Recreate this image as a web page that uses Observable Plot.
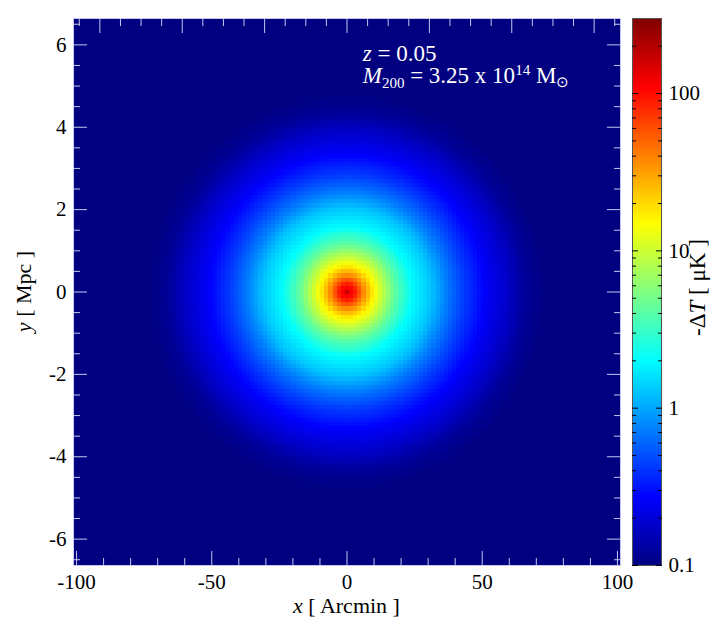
<!DOCTYPE html>
<html><head><meta charset="utf-8">
<script src="https://cdn.jsdelivr.net/npm/d3@7"></script>
<script src="https://cdn.jsdelivr.net/npm/@observablehq/plot@0.6"></script>
<style>
html,body{margin:0;padding:0;background:#fff;}
#chart{position:relative;width:728px;height:629px;font-family:"Liberation Serif","Times New Roman",serif;}
#chart svg{position:absolute;top:0;overflow:visible;}
</style></head><body><div id="chart"></div>
<script>
// Radial profile of the decrement (radius in Mpc, -ΔT in µK)
const profileRadiusMpc = [0, 0.1, 0.17, 0.28, 0.4, 0.53, 0.66, 0.9, 1.14, 1.57, 2.03, 2.4, 2.83, 3.32, 3.9, 4.37, 4.85, 5.5, 9.5];
const profileDeltaT    = [170, 115, 100, 65, 38, 23, 15, 8.2, 4.5, 2.0, 1.3, 0.74, 0.44, 0.27, 0.175, 0.119, 0.1, 0.08, 0.05];
const arcminPerMpc = 15.23;        // angular scale at z = 0.05
const mapHalfWidthMpc = 6.64;      // half side of the map
const pixelMpc = 0.1;              // map pixel size
const cellCount = 133;             // map pixels per side
// Tick values
const xMajorTicks = [-100, -50, 0, 50, 100];
const xMinorTicks = [-90, -80, -70, -60, -40, -30, -20, -10, 10, 20, 30, 40, 60, 70, 80, 90];
const mpcMajorTicks = [-6, -4, -2, 0, 2, 4, 6];
const mpcMinorTicks = [-6.5, -5.5, -5, -4.5, -3.5, -3, -2.5, -1.5, -1, -0.5, 0.5, 1, 1.5, 2.5, 3, 3.5, 4.5, 5, 5.5, 6.5];
const cbarDomain = [0.1, 300];
const cbarMajorTicks = [0.1, 1, 10, 100];
const cbarMinorTicks = [0.2, 0.3, 0.4, 0.5, 0.6, 0.7, 0.8, 0.9, 2, 3, 4, 5, 6, 7, 8, 9, 20, 30, 40, 50, 60, 70, 80, 90, 200];
const cbarTickLabels = ["0.1", "1", "10", "100"];
// Texts
const xTitle = ["x", " [ Arcmin ]"];
const yTitle = ["y", " [ Mpc ]"];
const cTitle = ["-Δ", "T", " [ μK ]"];

function jet(t) {
  const c = v => Math.round(255 * Math.max(0, Math.min(1, v)));
  return `rgb(${c(1.5 - Math.abs(4 * t - 3))},${c(1.5 - Math.abs(4 * t - 2))},${c(1.5 - Math.abs(4 * t - 1))})`;
}
const logProfile = d3.scaleLinear().domain(profileRadiusMpc).range(profileDeltaT.map(Math.log10)).clamp(true);
const deltaTAt = r => 10 ** logProfile(r);

const colorOpts = {type: "log", domain: cbarDomain, interpolate: jet, clamp: true};
const tickColor = "#c6c6ee";
const font = {fontFamily: "Liberation Serif", fontSize: "21px", color: "#000", background: "transparent"};
const xHalf = mapHalfWidthMpc * arcminPerMpc;
const gridHalf = cellCount * pixelMpc / 2;
const hy = d => String(d);

const main = Plot.plot({
  width: 625, height: 629,
  marginLeft: 73, marginRight: 5, marginTop: 18, marginBottom: 64,
  style: font,
  x: {domain: [-xHalf, xHalf]},
  y: {domain: [-mapHalfWidthMpc, mapHalfWidthMpc]},
  color: colorOpts,
  marks: [
    Plot.raster({
      x1: -gridHalf * arcminPerMpc, x2: gridHalf * arcminPerMpc,
      y1: -gridHalf, y2: gridHalf,
      width: cellCount, height: cellCount,
      fill: (x, y) => deltaTAt(Math.hypot(x / arcminPerMpc, y)),
      imageRendering: "pixelated", clip: true
    }),
    Plot.frame({stroke: tickColor}),
    // bottom: arcmin
    Plot.axisX({anchor: "bottom", ticks: xMajorTicks, tickSize: -14, stroke: tickColor, fill: "none", label: null}),
    Plot.axisX({anchor: "bottom", ticks: xMinorTicks, tickSize: -7, stroke: tickColor, fill: "none", label: null}),
    Plot.axisX({anchor: "bottom", ticks: xMajorTicks, tickSize: 0, tickPadding: 9, tickFormat: hy, label: null}),
    // top: Mpc
    Plot.axisX({anchor: "top", ticks: mpcMajorTicks.map(d => d * arcminPerMpc), tickSize: -14, stroke: tickColor, fill: "none", label: null}),
    Plot.axisX({anchor: "top", ticks: mpcMinorTicks.map(d => d * arcminPerMpc), tickSize: -7, stroke: tickColor, fill: "none", label: null}),
    // left / right: Mpc
    Plot.axisY({anchor: "left", ticks: mpcMajorTicks, tickSize: -14, stroke: tickColor, fill: "none", label: null}),
    Plot.axisY({anchor: "left", ticks: mpcMinorTicks, tickSize: -7, stroke: tickColor, fill: "none", label: null}),
    Plot.axisY({anchor: "left", ticks: mpcMajorTicks, tickSize: 0, tickPadding: 7, tickFormat: hy, label: null}),
    Plot.axisY({anchor: "right", ticks: mpcMajorTicks, tickSize: -14, stroke: tickColor, fill: "none", label: null}),
    Plot.axisY({anchor: "right", ticks: mpcMinorTicks, tickSize: -7, stroke: tickColor, fill: "none", label: null})
  ]
});
main.style.left = "0px";

const cbar = Plot.plot({
  width: 108, height: 629,
  marginLeft: 12, marginRight: 67, marginTop: 18, marginBottom: 64,
  style: font,
  x: {domain: [0, 1], axis: null},
  y: {domain: cbarDomain.map(Math.log10)},
  color: colorOpts,
  marks: [
    Plot.raster({x1: 0, x2: 1, y1: Math.log10(cbarDomain[0]), y2: Math.log10(cbarDomain[1]),
      width: 1, height: 547, fill: (x, y) => 10 ** y}),
    Plot.frame({stroke: "#555"}),
    Plot.axisY({anchor: "left", ticks: cbarMajorTicks.map(Math.log10), tickSize: -6, stroke: "#000", fill: "none", label: null}),
    Plot.axisY({anchor: "left", ticks: cbarMinorTicks.map(Math.log10), tickSize: -4, stroke: "#000", fill: "none", label: null}),
    Plot.axisY({anchor: "right", ticks: cbarMajorTicks.map(Math.log10), tickSize: -6, stroke: "#000", fill: "none", label: null}),
    Plot.axisY({anchor: "right", ticks: cbarMinorTicks.map(Math.log10), tickSize: -4, stroke: "#000", fill: "none", label: null}),
    Plot.axisY({anchor: "right", ticks: cbarMajorTicks.map(Math.log10), tickSize: 0, tickPadding: 7,
      tickFormat: d => cbarTickLabels[cbarMajorTicks.findIndex(v => Math.abs(Math.log10(v) - d) < 1e-9)], label: null})
  ]
});
cbar.style.left = "620px";

const chart = document.getElementById("chart");
chart.append(main, cbar);

// Rich-text titles and annotation
const ms = d3.select(main);
const sx = main.scale("x"), sy = main.scale("y");
const cx = (sx.range[0] + sx.range[1]) / 2, cy = (sy.range[0] + sy.range[1]) / 2;
const t1 = ms.append("text").attr("x", cx).attr("y", 613).attr("text-anchor", "middle")
  .attr("font-family", "Liberation Serif").attr("font-size", 22).attr("fill", "#000");
t1.append("tspan").attr("font-style", "italic").text(xTitle[0]);
t1.append("tspan").text(xTitle[1]);
const t2 = ms.append("text").attr("transform", `translate(31,${cy}) rotate(-90)`).attr("text-anchor", "middle")
  .attr("font-family", "Liberation Serif").attr("font-size", 22).attr("fill", "#000");
t2.append("tspan").attr("font-style", "italic").text(yTitle[0]);
t2.append("tspan").text(yTitle[1]);

const ax = sx.apply(6);
const a1 = ms.append("text").attr("x", ax).attr("y", sy.apply(5.6)).attr("text-anchor", "start")
  .attr("font-family", "Liberation Serif").attr("font-size", 23).attr("fill", "#fff");
a1.append("tspan").attr("font-style", "italic").text("z");
a1.append("tspan").text(" = 0.05");
const a2 = ms.append("text").attr("x", ax).attr("y", sy.apply(5.07)).attr("text-anchor", "start")
  .attr("font-family", "Liberation Serif").attr("font-size", 23).attr("fill", "#fff");
a2.append("tspan").attr("font-style", "italic").text("M");
a2.append("tspan").attr("font-size", 15).attr("dy", 5).text("200");
a2.append("tspan").attr("dy", -5).text(" = 3.25 x 10");
a2.append("tspan").attr("font-size", 15).attr("dy", -8).text("14");
a2.append("tspan").attr("dy", 8).text(" M");
a2.append("tspan").attr("font-size", 15).attr("dy", 4).text("⊙");

const cs = d3.select(cbar);
const t3 = cs.append("text").attr("transform", `translate(85,${cy - 4}) rotate(-90)`).attr("text-anchor", "middle")
  .attr("font-family", "Liberation Serif").attr("font-size", 23).attr("fill", "#000");
t3.append("tspan").text(cTitle[0]);
t3.append("tspan").attr("font-style", "italic").text(cTitle[1]);
t3.append("tspan").text(cTitle[2]);
</script></body></html>
